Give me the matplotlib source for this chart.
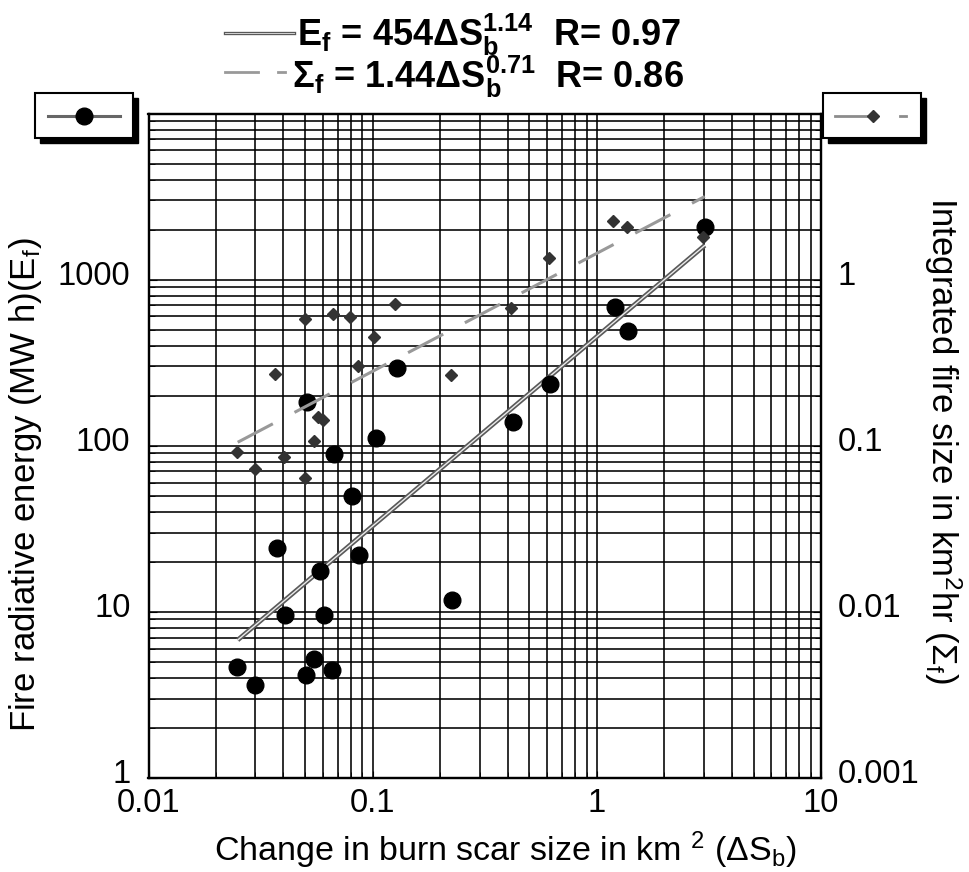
import numpy as np
import matplotlib
matplotlib.use('Agg')
import matplotlib.pyplot as plt
from matplotlib.patches import Rectangle
from matplotlib.ticker import LogLocator, NullFormatter
from matplotlib.transforms import ScaledTranslation

plt.rcParams['font.family'] = ['Liberation Sans', 'DejaVu Sans']
plt.rcParams['mathtext.fontset'] = 'custom'
plt.rcParams['mathtext.rm'] = 'Liberation Sans'
plt.rcParams['mathtext.it'] = 'Liberation Sans'
plt.rcParams['mathtext.bf'] = 'Liberation Sans:bold'
plt.rcParams['mathtext.default'] = 'regular'

# burn scar change (km2) vs fire radiative energy (MW h), left axis
scar_e = [0.0249, 0.0299, 0.0374, 0.0406, 0.0506, 0.0509, 0.055, 0.0584, 0.0604, 0.0659,
          0.0675, 0.0806, 0.0872, 0.103, 0.1285, 0.2255, 0.422, 0.615, 1.2, 1.38, 3.03]
energy = [4.64, 3.62, 24.3, 9.6, 4.18, 183, 5.18, 17.7, 9.6, 4.49,
          89.3, 49.5, 21.9, 111, 294, 11.8, 139, 236, 681, 491, 2075]

# burn scar change (km2) vs integrated fire size (km2 hr), right axis
scar_s = [0.0247, 0.0299, 0.0368, 0.0402, 0.0501, 0.0500, 0.0545, 0.0568, 0.0603, 0.0662,
          0.0794, 0.0858, 0.1018, 0.126, 0.224, 0.412, 0.61, 1.18, 1.37, 2.97]
firesize = [0.0914, 0.0721, 0.272, 0.0854, 0.578, 0.0642, 0.107, 0.149, 0.142, 0.620,
            0.592, 0.302, 0.450, 0.716, 0.266, 0.674, 1.346, 2.24, 2.075, 1.811]

# fitted power laws
fit_e = (454, 1.14)
fit_s = (1.44, 0.71)
fit_range = (0.025, 3.03)

xticks = [0.01, 0.1, 1, 10]
xticklabels = ['0.01', '0.1', '1', '10']
lticks = [1, 10, 100, 1000]
lticklabels = ['1', '10', '100', '1000']
rticks = [0.001, 0.01, 0.1, 1]
rticklabels = ['0.001', '0.01', '0.1', '1']

W, H = 970, 872
fig = plt.figure(figsize=(W / 100, H / 100), dpi=100)
x0, x1, y0, y1 = 148.5, 821, 113.5, 778
ax = fig.add_axes([x0 / W, 1 - y1 / H, (x1 - x0) / W, (y1 - y0) / H])

ax.set_xscale('log')
ax.set_yscale('log')
ax.set_xlim(0.01, 10)
ax.set_ylim(1, 10000)
ax.set_xticks(xticks)
ax.set_xticklabels(xticklabels)
ax.set_yticks(lticks)
ax.set_yticklabels(lticklabels)
ax.xaxis.set_minor_locator(LogLocator(base=10, subs=np.arange(2, 10), numticks=20))
ax.yaxis.set_minor_locator(LogLocator(base=10, subs=np.arange(2, 10), numticks=20))
ax.xaxis.set_minor_formatter(NullFormatter())
ax.yaxis.set_minor_formatter(NullFormatter())
ax.grid(True, which='both', color='black', lw=1.15, zorder=0)
ax.set_axisbelow(True)
ax.tick_params(axis='both', which='both', direction='in', labelsize=23.5, colors='black')
ax.tick_params(axis='y', which='major', pad=13, length=6)
ax.tick_params(axis='y', which='minor', length=4)
ax.tick_params(axis='x', which='major', pad=7, length=5)
ax.tick_params(axis='x', which='minor', length=4)
for s in ax.spines.values():
    s.set_linewidth(1.6)

# energy points and fit
xf = np.logspace(np.log10(fit_range[0]), np.log10(fit_range[1]), 60)
ax.plot(xf, fit_e[0] * xf ** fit_e[1], color='0.35', lw=3.4, zorder=3, solid_capstyle='butt')
ax.plot(xf, fit_e[0] * xf ** fit_e[1], color='0.92', lw=1.0, zorder=3.1)
ax.plot(scar_e, energy, 'o', color='black', ms=12, zorder=4)

ax2 = ax.twinx()
ax2.set_yscale('log')
ax2.set_ylim(0.001, 10)
ax2.set_yticks(rticks)
ax2.set_yticklabels(rticklabels)
ax2.yaxis.set_minor_locator(LogLocator(base=10, subs=np.arange(2, 10), numticks=20))
ax2.yaxis.set_minor_formatter(NullFormatter())
ax2.tick_params(axis='y', which='both', direction='in', labelsize=23.5, pad=12)
ax2.tick_params(axis='y', which='major', length=6)
ax2.tick_params(axis='y', which='minor', length=4)
for s in ax2.spines.values():
    s.set_linewidth(1.6)

ax2.plot(xf, fit_s[0] * xf ** fit_s[1], color='0.6', lw=2.2,
         linestyle=(0, (13, 8)), zorder=3)
ax2.plot(scar_s, firesize, 'D', color='0.2', ms=5.8, zorder=4)

# y tick labels sit a little above their grid lines in the original
lift = ScaledTranslation(0, 7 / 100, fig.dpi_scale_trans)
for lab in ax.get_yticklabels() + ax2.get_yticklabels():
    lab.set_transform(lab.get_transform() + lift)

# overlay in pixel coordinates for labels, legend boxes and equations
axo = fig.add_axes([0, 0, 1, 1], zorder=5)
axo.set_xlim(0, W)
axo.set_ylim(H, 0)
axo.axis('off')

axo.text(26, 485, 'Fire radiative energy (MW h)(E$_f$)', rotation=90,
         ha='center', va='center', fontsize=25)
axo.text(943, 440, 'Integrated fire size in km$^2$hr (Σ$_f$)', rotation=270,
         ha='center', va='center', fontsize=25)
axo.text(505, 850, 'Change in burn scar size in km $^2$ (ΔS$_b$)',
         ha='center', va='center', fontsize=24.5)

axo.text(297, 46, 'E$_f$ = 454ΔS$_b^{1.14}$  R= 0.97', fontsize=26,
         fontweight='bold', ha='left', va='baseline')
axo.text(292, 88, 'Σ$_f$ = 1.44ΔS$_b^{0.71}$  R= 0.86', fontsize=26,
         fontweight='bold', ha='left', va='baseline')
axo.plot([225, 294], [33, 33], color='0.35', lw=2.4)
axo.plot([225, 294], [33, 33], color='0.9', lw=0.6)
axo.plot([225, 258], [72, 72], color='0.6', lw=2.0)
axo.plot([278, 285], [72, 72], color='0.6', lw=2.0)

# legend boxes
for bx in (35, 823):
    axo.add_patch(Rectangle((bx + 5, 98), 98, 45, facecolor='black', edgecolor='black'))
    axo.add_patch(Rectangle((bx, 93), 98, 45, facecolor='white', edgecolor='black', lw=1.5))
axo.plot([48, 120], [116, 116], color='0.4', lw=2.2)
axo.plot([84], [116], 'o', color='black', ms=12)
axo.plot([835, 872], [116, 116], color='0.55', lw=2.0)
axo.plot([873], [116], 'D', color='0.2', ms=5.8)
axo.plot([900, 906], [116, 116], color='0.55', lw=2.0)

fig.savefig('out.png', dpi=100)
